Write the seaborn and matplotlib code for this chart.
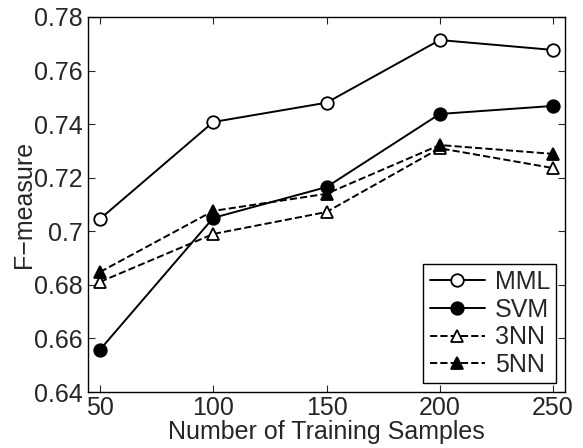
import matplotlib
matplotlib.use("Agg")
import matplotlib.pyplot as plt
import seaborn as sns
import pandas as pd

samples = [50, 100, 150, 200, 250]
mml = [0.7046, 0.7408, 0.7480, 0.7714, 0.7677]
svm = [0.6558, 0.7050, 0.7165, 0.7438, 0.7468]
nn3 = [0.6811, 0.6990, 0.7072, 0.7310, 0.7236]
nn5 = [0.6848, 0.7076, 0.7140, 0.7322, 0.7289]
series_names = ["MML", "SVM", "3NN", "5NN"]
y_ticks = [0.64, 0.66, 0.68, 0.70, 0.72, 0.74, 0.76, 0.78]
y_tick_labels = ["0.64", "0.66", "0.68", "0.7", "0.72", "0.74", "0.76", "0.78"]

sns.set_style("ticks")
plt.rcParams['font.family'] = ['Liberation Sans', 'DejaVu Sans']

fig = plt.figure(figsize=(5.83, 4.48), dpi=100)
ax = fig.add_axes([88/583, 1-392/448, (565-88)/583, (392-17)/448])

styles = [
    dict(marker="o", mfc="white", ls="-"),
    dict(marker="o", mfc="black", ls="-"),
    dict(marker="^", mfc="white", ls="--"),
    dict(marker="^", mfc="black", ls="--"),
]
for name, vals, st in zip(series_names, [mml, svm, nn3, nn5], styles):
    df = pd.DataFrame({"x": samples, "y": vals})
    sns.lineplot(data=df, x="x", y="y", ax=ax, color="black", lw=1.4,
                 marker=st["marker"], markerfacecolor=st["mfc"],
                 markeredgecolor="black", markeredgewidth=1.3, markersize=9,
                 linestyle=st["ls"], label=name)

ax.set_xlim(44.7, 255.3)
ax.set_ylim(0.64, 0.78)
ax.set_xticks(samples)
ax.set_xticklabels([str(s) for s in samples])
ax.set_yticks(y_ticks)
ax.set_yticklabels(y_tick_labels)
ax.tick_params(direction="in", top=True, right=True, labelsize=18, length=5,
               width=0.8, pad=4)
ax.tick_params(axis="x", pad=3)
for s in ax.spines.values():
    s.set_linewidth(1.0)
    s.set_color("black")
ax.set_xlabel("Number of Training Samples", fontsize=18, labelpad=0)
ax.set_ylabel("F\u2212measure", fontsize=18)
ax.yaxis.set_label_coords(-52/477, 0.5)

leg = ax.legend(loc="lower right", fontsize=18, frameon=True, fancybox=False,
                edgecolor="black", framealpha=1, handlelength=2.2,
                borderpad=0.25, labelspacing=0.15, handletextpad=0.4,
                borderaxespad=0.35)
leg.get_frame().set_linewidth(1.0)

fig.savefig("out.png", dpi=100, facecolor="white")
